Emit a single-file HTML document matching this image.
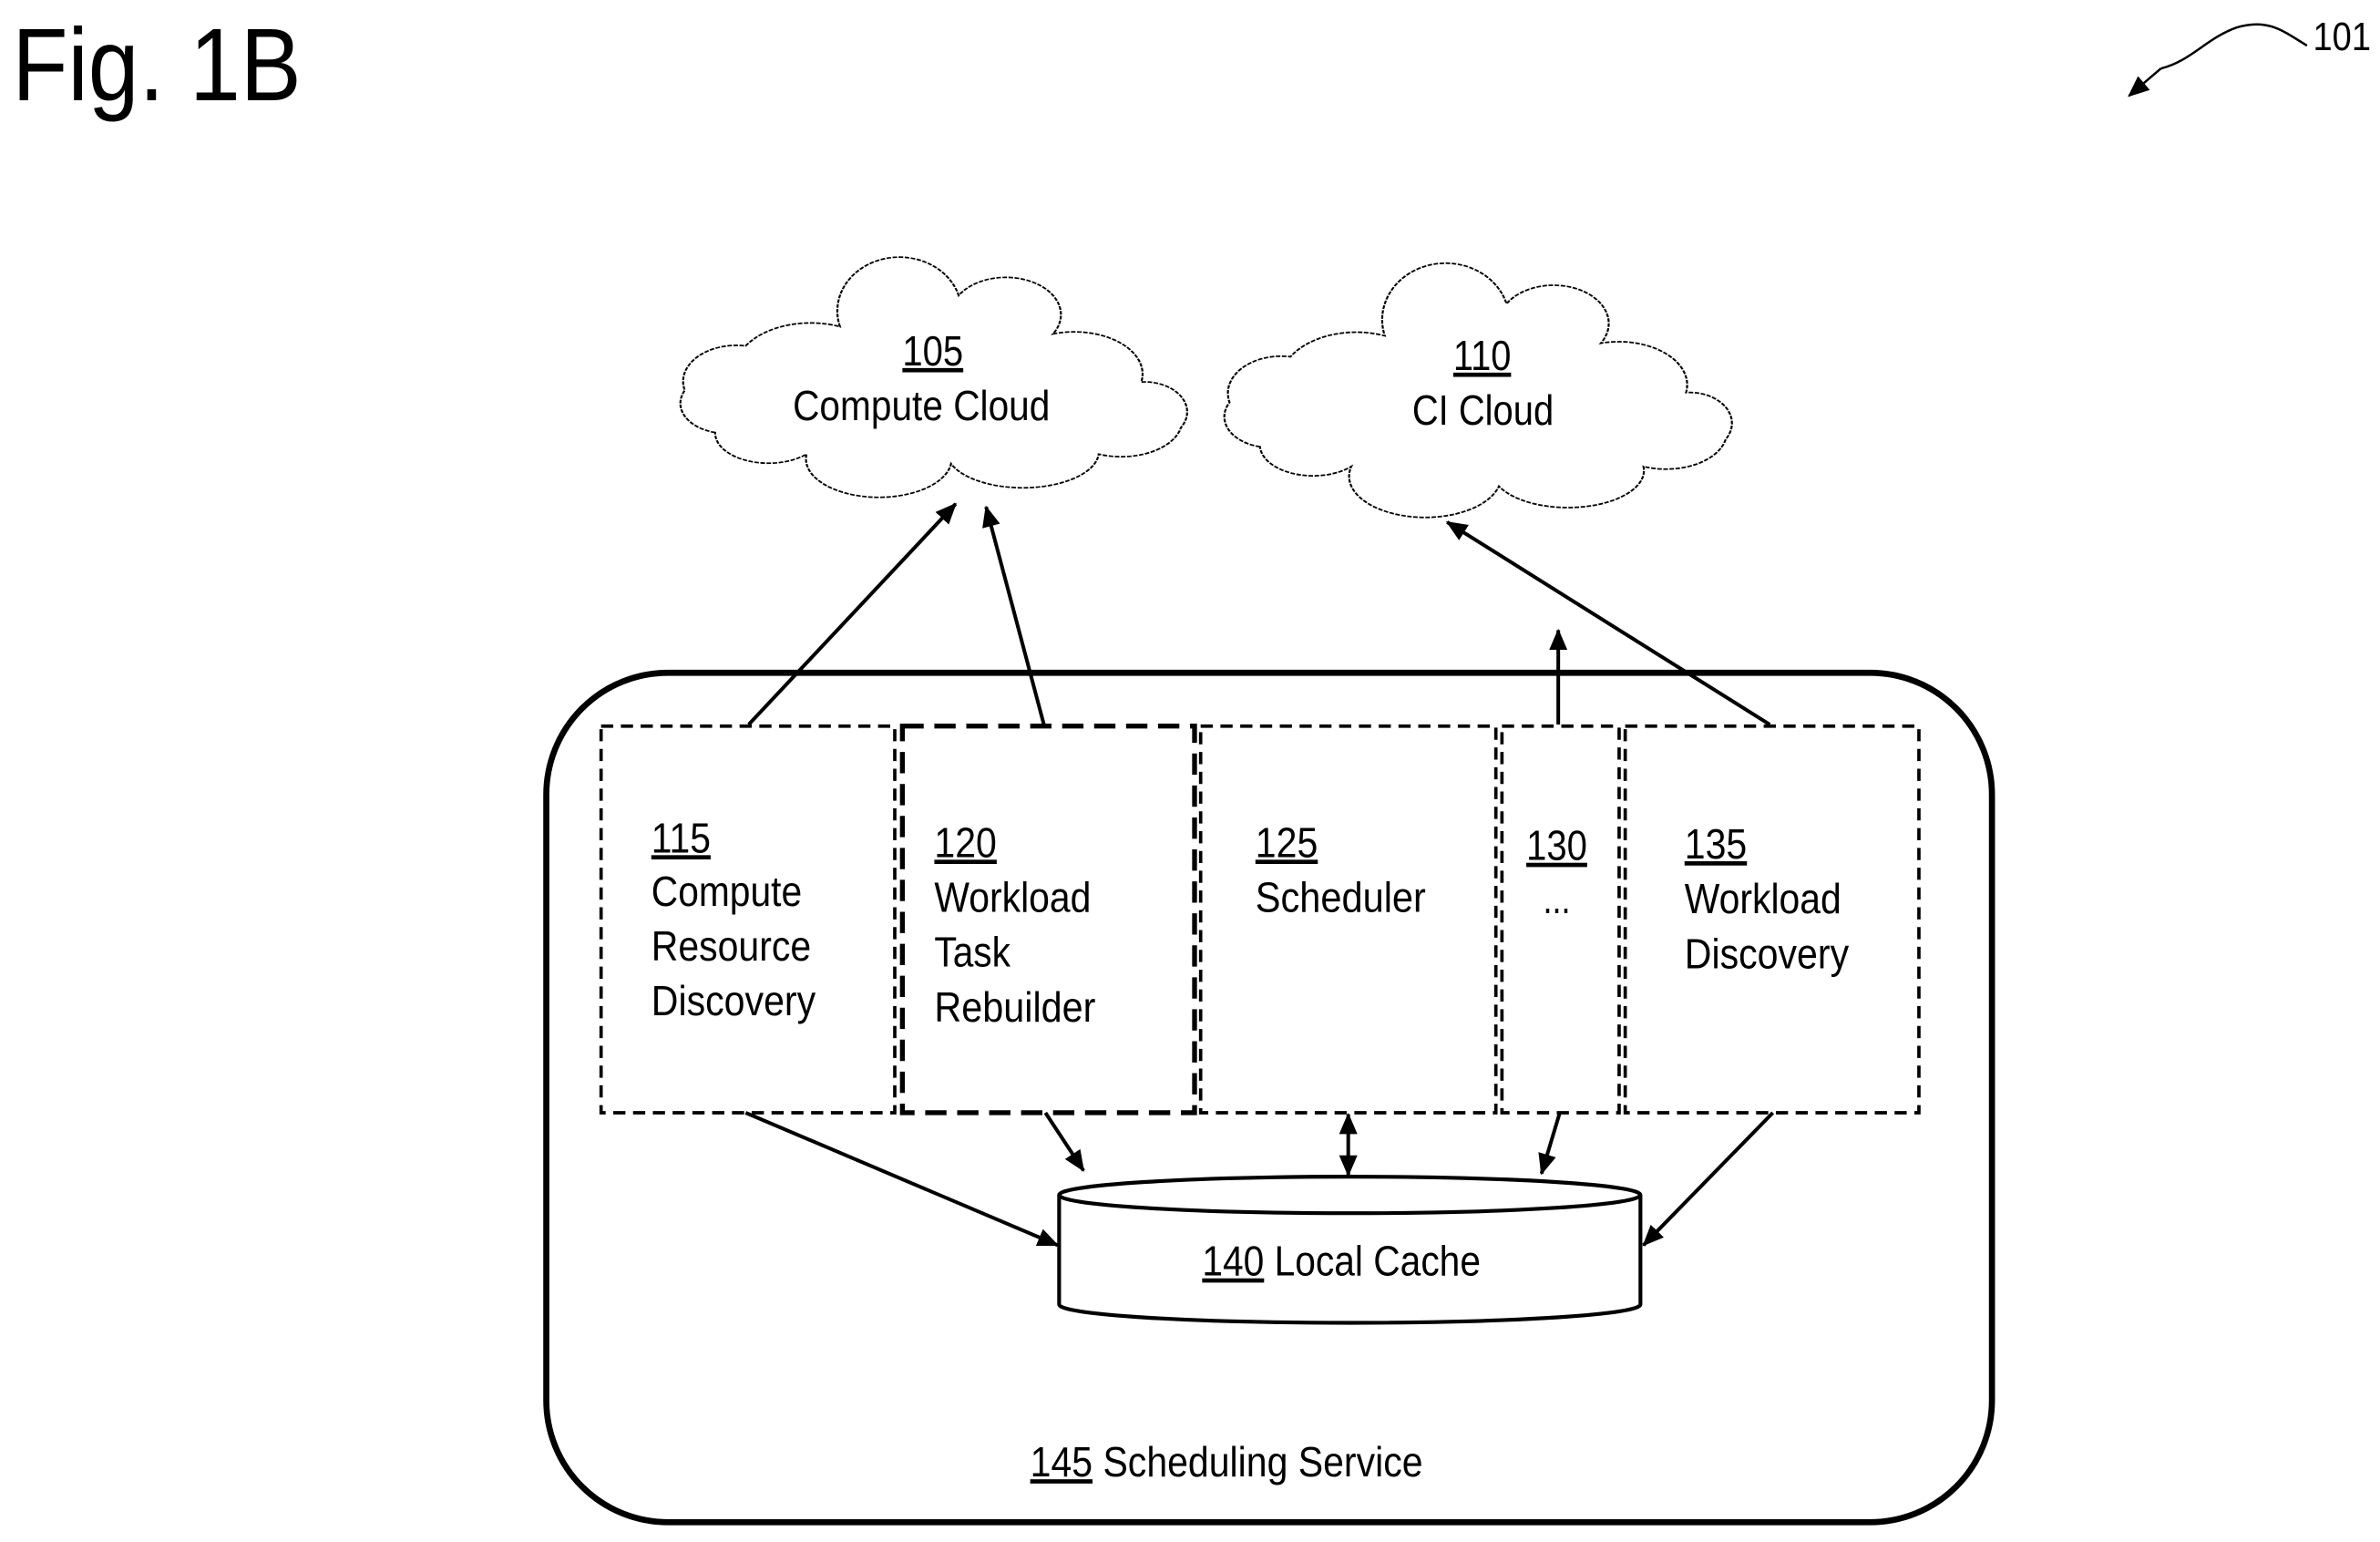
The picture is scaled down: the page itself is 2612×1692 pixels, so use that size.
<!DOCTYPE html>
<html><head><style>
html,body{margin:0;padding:0;background:#fff;}
svg{display:block;}
text{font-family:"Liberation Sans Narrow","Liberation Sans",sans-serif;fill:#000;}
</style></head><body>
<svg width="2612" height="1692" viewBox="0 0 1564 1013" preserveAspectRatio="none" xmlns="http://www.w3.org/2000/svg">
<defs>
<marker id="ah2" markerWidth="14" markerHeight="12" refX="13" refY="6" orient="auto" markerUnits="userSpaceOnUse"><path d="M0,0 L14,6 L0,12 Z" fill="#000"/></marker>
<marker id="ahs" markerWidth="14" markerHeight="12" refX="1" refY="6" orient="auto" markerUnits="userSpaceOnUse"><path d="M14,0 L0,6 L14,12 Z" fill="#000"/></marker>
</defs>
<text x="8" y="66" font-size="68" textLength="190" lengthAdjust="spacingAndGlyphs">Fig. 1B</text>
<text x="1520" y="33" font-size="26" textLength="38" lengthAdjust="spacingAndGlyphs">101</text>
<path d="M1516,30 C1500,20 1490,12 1470,18 C1450,25 1440,40 1420,45" fill="none" stroke="#000" stroke-width="1.5"/>
<path d="M1420,45 L1399,63" stroke="#000" stroke-width="1.5" marker-end="url(#ah2)"/>

<g fill="#fff" stroke="#000" stroke-width="1.3" stroke-dasharray="3,1">
<path transform="translate(0,168) scale(1,0.79) translate(0,-153)" d="M470,300 A30,25 0 0 1 450,265 A35,30 0 0 1 490,228 A50,40 0 0 1 552,212 A40,44 0 0 1 630,186 A35,30 0 0 1 692,218 A45,35 0 0 1 750,258 A28,25 0 0 1 776,296 A40,30 0 0 1 722,318 A50,30 0 0 1 625,326 A45,30 0 0 1 530,318 A35,25 0 0 1 470,300 Z"/>
<path transform="translate(0,172) scale(1,0.81) translate(0,-156)" d="M828,306 A30,25 0 0 1 808,270 A35,30 0 0 1 848,233 A50,40 0 0 1 910,216 A40,44 0 0 1 990,190 A35,30 0 0 1 1052,222 A45,35 0 0 1 1108,262 A28,25 0 0 1 1134,300 A40,30 0 0 1 1080,322 A50,30 0 0 1 985,338 A45,30 0 0 1 888,322 A35,25 0 0 1 828,306 Z"/>
</g>
<g font-size="28" lengthAdjust="spacingAndGlyphs">
<text x="593" y="240" text-decoration="underline" textLength="40" lengthAdjust="spacingAndGlyphs">105</text>
<text x="521" y="276" textLength="169" lengthAdjust="spacingAndGlyphs">Compute Cloud</text>
<text x="955" y="243" text-decoration="underline" textLength="38" lengthAdjust="spacingAndGlyphs">110</text>
<text x="928" y="279" textLength="93" lengthAdjust="spacingAndGlyphs">CI Cloud</text>
</g>

<rect x="359" y="442" width="950" height="558" rx="80" ry="80" fill="none" stroke="#000" stroke-width="4"/>

<g fill="none" stroke="#000" stroke-width="2.2" stroke-dasharray="8,5">
<rect x="395" y="477" width="193" height="254"/>
<rect x="789" y="477" width="194" height="254"/>
<rect x="987" y="477" width="77" height="254"/>
<rect x="1068" y="477" width="193" height="254"/>
</g>
<rect x="593" y="477" width="192" height="254" fill="none" stroke="#000" stroke-width="3.2" stroke-dasharray="14,7"/>

<g font-size="28">
<text x="428" y="560" text-decoration="underline" textLength="39" lengthAdjust="spacingAndGlyphs">115</text>
<text x="428" y="595" textLength="99" lengthAdjust="spacingAndGlyphs">Compute</text>
<text x="428" y="631" textLength="105" lengthAdjust="spacingAndGlyphs">Resource</text>
<text x="428" y="667" textLength="108" lengthAdjust="spacingAndGlyphs">Discovery</text>
<text x="614" y="563" text-decoration="underline" textLength="41" lengthAdjust="spacingAndGlyphs">120</text>
<text x="614" y="599" textLength="103" lengthAdjust="spacingAndGlyphs">Workload</text>
<text x="614" y="635" textLength="50" lengthAdjust="spacingAndGlyphs">Task</text>
<text x="614" y="671" textLength="106" lengthAdjust="spacingAndGlyphs">Rebuilder</text>
<text x="825" y="563" text-decoration="underline" textLength="41" lengthAdjust="spacingAndGlyphs">125</text>
<text x="825" y="599" textLength="112" lengthAdjust="spacingAndGlyphs">Scheduler</text>
<text x="1003" y="565" text-decoration="underline" textLength="40" lengthAdjust="spacingAndGlyphs">130</text>
<text x="1014" y="600" textLength="18" lengthAdjust="spacingAndGlyphs">...</text>
<text x="1107" y="564" text-decoration="underline" textLength="41" lengthAdjust="spacingAndGlyphs">135</text>
<text x="1107" y="600" textLength="103" lengthAdjust="spacingAndGlyphs">Workload</text>
<text x="1107" y="636" textLength="108" lengthAdjust="spacingAndGlyphs">Discovery</text>
</g>

<g stroke="#000" stroke-width="2.4" fill="none">
<line x1="492" y1="476" x2="628" y2="331" marker-end="url(#ah2)"/>
<line x1="686" y1="476" x2="648" y2="333" marker-end="url(#ah2)"/>
<line x1="1024" y1="476" x2="1024" y2="414" marker-end="url(#ah2)"/>
<line x1="1163" y1="476" x2="951" y2="343" marker-end="url(#ah2)"/>
<line x1="490" y1="731" x2="695" y2="818" marker-end="url(#ah2)"/>
<line x1="687" y1="731" x2="712" y2="769" marker-end="url(#ah2)"/>
<line x1="886" y1="732" x2="886" y2="772" marker-end="url(#ah2)" marker-start="url(#ahs)"/>
<line x1="1025" y1="731" x2="1013" y2="771" marker-end="url(#ah2)"/>
<line x1="1165" y1="731" x2="1080" y2="818" marker-end="url(#ah2)"/>
</g>

<path d="M696,785 L696,857 A191,12 0 0 0 1078,857 L1078,785" fill="#fff" stroke="#000" stroke-width="2.5"/>
<ellipse cx="887" cy="785" rx="191" ry="12" fill="#fff" stroke="#000" stroke-width="2.5"/>
<text x="790" y="838" font-size="28" textLength="183" lengthAdjust="spacingAndGlyphs"><tspan text-decoration="underline">140</tspan> Local Cache</text>
<text x="677" y="970" font-size="28" textLength="258" lengthAdjust="spacingAndGlyphs"><tspan text-decoration="underline">145</tspan> Scheduling Service</text>
</svg>
</body></html>
